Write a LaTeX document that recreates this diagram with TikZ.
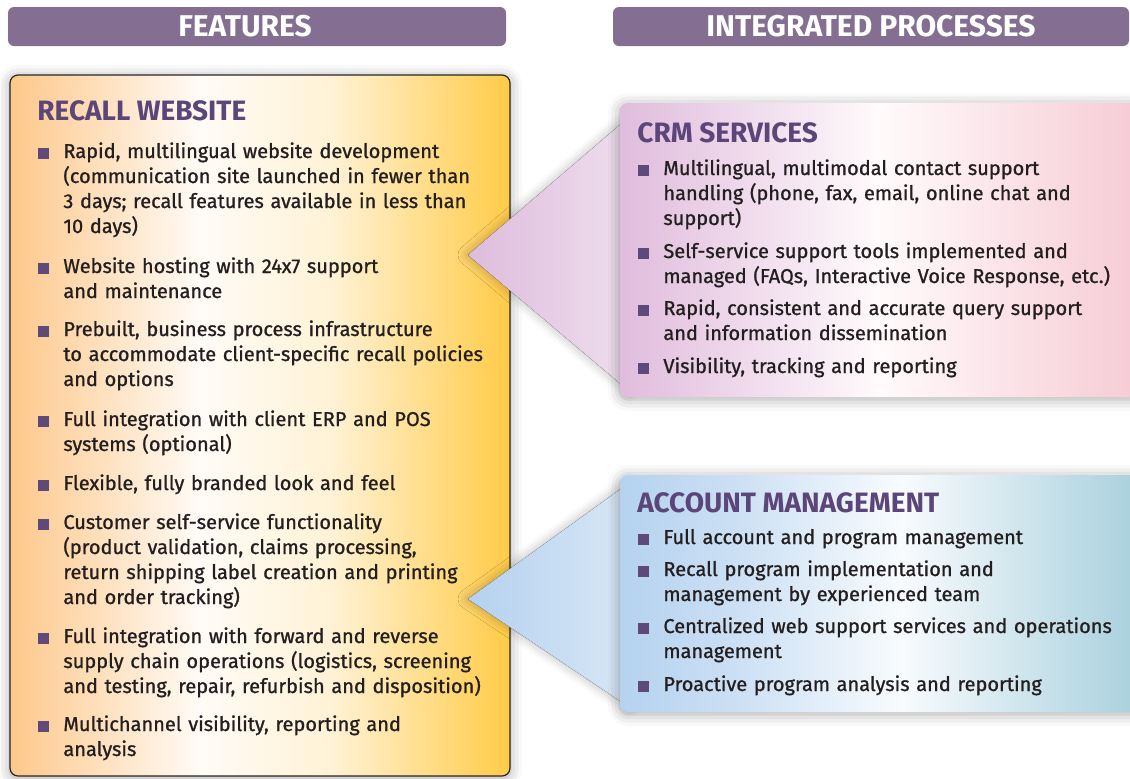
\documentclass[tikz,border=0pt]{standalone}
\usepackage{fontspec}
\setmainfont{Fira Sans}[UprightFeatures={FakeBold=1}]
\usetikzlibrary{shadows.blur}
\definecolor{barpurple}{RGB}{132, 111, 147}
\definecolor{titlepurple}{RGB}{91, 69, 121}
\definecolor{bulletpurple}{RGB}{94, 74, 122}
\definecolor{bodytext}{RGB}{35, 31, 32}
\definecolor{featpeach}{RGB}{253, 200, 138}
\definecolor{featwhite}{RGB}{255, 251, 246}
\definecolor{featcream}{RGB}{255, 242, 214}
\definecolor{featgold}{RGB}{255, 203, 71}
\definecolor{crmlilac}{RGB}{224, 188, 221}
\definecolor{crmwhite}{RGB}{255, 250, 251}
\definecolor{crmpink}{RGB}{246, 203, 213}
\definecolor{crmtip}{RGB}{222, 188, 220}
\definecolor{crmbase}{RGB}{238, 222, 238}
\definecolor{acctblue}{RGB}{181, 210, 239}
\definecolor{acctwhite}{RGB}{248, 251, 253}
\definecolor{acctteal}{RGB}{168, 208, 221}
\definecolor{accttip}{RGB}{180, 209, 238}
\definecolor{acctbase}{RGB}{216, 231, 246}
\pgfdeclarehorizontalshading{featfill}{100bp}{color(0bp)=(featpeach); color(25bp)=(featpeach); color(44bp)=(featwhite); color(57bp)=(featcream); color(75bp)=(featgold); color(100bp)=(featgold)}
\pgfdeclarehorizontalshading{crmfill}{100bp}{color(0bp)=(crmlilac); color(25bp)=(crmlilac); color(50bp)=(crmwhite); color(75bp)=(crmpink); color(100bp)=(crmpink)}
\pgfdeclarehorizontalshading{acctfill}{100bp}{color(0bp)=(acctblue); color(25bp)=(acctblue); color(36bp)=(acctblue!70!white); color(52bp)=(acctwhite); color(75bp)=(acctteal); color(100bp)=(acctteal)}
\tikzset{
  headbar/.style={fill=barpurple, rounded corners=3pt, minimum height=19.5pt, inner sep=0pt,
    text=white, font=\fontsize{15pt}{18pt}\selectfont\bfseries},
  panelbox/.style={rounded corners=4pt, inner sep=0pt,
    blur shadow={shadow xshift=0pt, shadow yshift=-1pt, shadow blur radius=6pt, shadow opacity=35}},
  paneltitle/.style={anchor=base west, inner sep=0pt, text=titlepurple,
    font=\fontsize{14pt}{16pt}\selectfont\bfseries},
  itemtext/.style={anchor=base west, inner sep=0pt, text width=260pt, align=left, text=bodytext,
    font=\fontsize{10pt}{12.5pt}\selectfont},
  bulletsq/.style={fill=bulletpurple, minimum size=5.5pt, inner sep=0pt},
  pointer/.style={blur shadow={shadow xshift=0pt, shadow yshift=0pt, shadow blur radius=5pt, shadow opacity=30}}
}

\begin{document}
\begin{tikzpicture}[x=0.5pt, y=-0.5pt]
\useasboundingbox (0,0) rectangle (1130,778);

% panels
\node[panelbox, shading=featfill, draw=black!85, line width=0.6pt, minimum width=250pt, minimum height=350.5pt] (feat) at (260,425.5) {};

\coordinate (crmtip) at (468,255);
\coordinate (accttip) at (468,599);
\node[minimum width=260pt, minimum height=147pt, inner sep=0pt] (crmref) at (880,250) {};
\node[minimum width=260pt, minimum height=118.5pt, inner sep=0pt] (acctref) at (880,593.5) {};
\fill[pointer, left color=crmtip, right color=crmbase] (crmtip) -- ([xshift=5pt, yshift=-7pt]crmref.north west) -- ([xshift=5pt, yshift=3pt]crmref.south west) -- cycle;
\fill[pointer, left color=accttip, right color=acctbase] (accttip) -- ([xshift=5pt, yshift=-4pt]acctref.north west) -- ([xshift=5pt, yshift=2.5pt]acctref.south west) -- cycle;

\node[panelbox, shading=crmfill, minimum width=260pt, minimum height=147pt] (crm) at (880,250) {};
\node[panelbox, shading=acctfill, minimum width=260pt, minimum height=118.5pt] (acct) at (880,593.5) {};

% headers
\node[headbar, minimum width=249pt] (feathead) at (257,26.5) {FEATURES\kern12pt};
\node[headbar, minimum width=258pt] (prochead) at (871,26.5) {INTEGRATED PROCESSES};

% recall website
\node[paneltitle] (feattitle) at (37,120) {RECALL WEBSITE};
\node[bulletsq] (fb1) at (43,153) {};
\node[itemtext] (f1) at (63,158) {Rapid, multilingual website development\\(communication site launched in fewer than\\3 days; recall features available in less than\\10 days)};
\node[bulletsq] (fb2) at (43,268) {};
\node[itemtext] (f2) at (63,273) {Website hosting with 24x7 support\\and maintenance};
\node[bulletsq] (fb3) at (43,331) {};
\node[itemtext] (f3) at (63,336) {Prebuilt, business process infrastructure\\to accommodate client-specific recall policies\\and options};
\node[bulletsq] (fb4) at (43,421) {};
\node[itemtext] (f4) at (63,426) {Full integration with client ERP and POS\\systems (optional)};
\node[bulletsq] (fb5) at (43,485) {};
\node[itemtext] (f5) at (63,490) {Flexible, fully branded look and feel};
\node[bulletsq] (fb6) at (43,524) {};
\node[itemtext] (f6) at (63,529) {Customer self-service functionality\\(product validation, claims processing,\\return shipping label creation and printing\\and order tracking)};
\node[bulletsq] (fb7) at (43,638) {};
\node[itemtext] (f7) at (63,643) {Full integration with forward and reverse\\supply chain operations (logistics, screening\\and testing, repair, refurbish and disposition)};
\node[bulletsq] (fb8) at (43,726) {};
\node[itemtext] (f8) at (63,731) {Multichannel visibility, reporting and\\analysis};

% crm services
\node[paneltitle] (crmtitle) at (637,142) {CRM SERVICES};
\node[bulletsq] (cb1) at (643,170) {};
\node[itemtext] (c1) at (663,175) {Multilingual, multimodal contact support\\handling (phone, fax, email, online chat and\\support)};
\node[bulletsq] (cb2) at (643,253) {};
\node[itemtext] (c2) at (663,258) {Self-service support tools implemented and\\managed (FAQs, Interactive Voice Response, etc.)};
\node[bulletsq] (cb3) at (643,310) {};
\node[itemtext] (c3) at (663,315) {Rapid, consistent and accurate query support\\and information dissemination};
\node[bulletsq] (cb4) at (643,368) {};
\node[itemtext] (c4) at (663,373) {Visibility, tracking and reporting};

% account management
\node[paneltitle] (accttitle) at (637,512) {ACCOUNT MANAGEMENT};
\node[bulletsq] (ab1) at (643,539) {};
\node[itemtext] (a1) at (663,544) {Full account and program management};
\node[bulletsq] (ab2) at (643,571) {};
\node[itemtext] (a2) at (663,576) {Recall program implementation and\\management by experienced team};
\node[bulletsq] (ab3) at (643,628) {};
\node[itemtext] (a3) at (663,633) {Centralized web support services and operations\\management};
\node[bulletsq] (ab4) at (643,686) {};
\node[itemtext] (a4) at (663,691) {Proactive program analysis and reporting};
\end{tikzpicture}
\end{document}
